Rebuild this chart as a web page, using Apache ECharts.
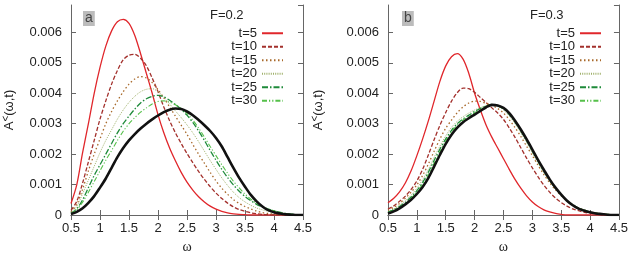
<!DOCTYPE html>
<html>
<head>
<meta charset="utf-8">
<title>A&lt;(w,t) spectra</title>
<script src="https://cdn.jsdelivr.net/npm/echarts@6/dist/echarts.min.js"></script>
<style>
  html, body { margin: 0; padding: 0; background: #fff; }
  #main { width: 631px; height: 259px; }
</style>
</head>
<body>
<div id="main"></div>
<script>
// frequency grid (omega), step 0.1 from 0.5 to 4.5
var omega = [0.5,0.6,0.7,0.8,0.9,1.0,1.1,1.2,1.3,1.4,1.5,1.6,1.7,1.8,1.9,2.0,2.1,2.2,2.3,2.4,2.5,
  2.6,2.7,2.8,2.9,3.0,3.1,3.2,3.3,3.4,3.5,3.6,3.7,3.8,3.9,4.0,4.1,4.2,4.3,4.4,4.5];

// values in units of 1e-3 -- panel a, F=0.2
var aT5  = [0.38,1.0,2.05,3.0,4.0,4.85,5.55,6.05,6.35,6.43, 6.3,5.9,5.3,4.65,4.0,3.3,2.7,2.2,1.78,1.4,
  1.08,0.82,0.6,0.43,0.29,0.19,0.12,0.07,0.04,0.02, 0.01,0,0,0,0,0,0,0,0,0,0];
var aT10 = [0.15,0.45,1.05,1.75,2.45,3.15,3.75,4.3,4.75,5.1, 5.25,5.28,5.15,4.9,4.5,4.05,3.55,3.1,2.7,2.35,
  2.02,1.72,1.43,1.17,0.93,0.72,0.54,0.39,0.27,0.18, 0.12,0.07,0.04,0.02,0.01,0,0,0,0,0,0];
var aT15 = [0.1,0.35,0.85,1.45,2.0,2.5,3.0,3.4,3.75,4.05, 4.3,4.47,4.55,4.5,4.35,4.12,3.85,3.55,3.25,2.95,
  2.65,2.32,2.0,1.7,1.4,1.12,0.88,0.68,0.51,0.38, 0.28,0.2,0.13,0.08,0.05,0.03,0.02,0.01,0,0,0];
var aT20 = [0.08,0.28,0.7,1.15,1.6,2.05,2.45,2.8,3.15,3.45, 3.7,3.9,4.05,4.13,4.15,4.05,3.87,3.65,3.42,3.2,
  2.96,2.7,2.41,2.1,1.79,1.5,1.22,0.97,0.75,0.57, 0.43,0.32,0.23,0.17,0.12,0.08,0.05,0.03,0.02,0.01,0];
var aT25 = [0.06,0.2,0.5,0.9,1.3,1.65,2.0,2.35,2.7,3.0, 3.25,3.48,3.68,3.82,3.9,3.93,3.88,3.77,3.63,3.47,
  3.28,3.04,2.76,2.45,2.12,1.8,1.5,1.23,0.99,0.78, 0.61,0.47,0.35,0.26,0.19,0.13,0.09,0.05,0.03,0.01,0];
var aT30 = [0.05,0.17,0.42,0.75,1.1,1.45,1.8,2.12,2.45,2.75, 3.0,3.2,3.38,3.52,3.65,3.73,3.75,3.71,3.62,3.5,
  3.34,3.12,2.86,2.56,2.25,1.95,1.65,1.37,1.11,0.89, 0.69,0.52,0.38,0.28,0.2,0.14,0.09,0.05,0.03,0.01,0];
var aEq  = [0.03,0.1,0.22,0.4,0.62,0.9,1.2,1.55,1.9,2.2, 2.45,2.66,2.84,3.0,3.14,3.27,3.38,3.46,3.5,3.48,
  3.4,3.28,3.12,2.95,2.76,2.53,2.25,1.9,1.55,1.22, 0.93,0.66,0.45,0.28,0.16,0.09,0.05,0.02,0.01,0,0];

// panel b, F=0.3
var bT5  = [0.4,0.55,0.76,1.05,1.45,1.95,2.5,3.1,3.75,4.4, 4.9,5.2,5.3,5.12,4.65,4.0,3.45,2.95,2.55,2.2,
  1.85,1.5,1.17,0.88,0.63,0.43,0.28,0.17,0.1,0.05, 0.02,0,0,0,0,0,0,0,0,0,0];
var bT10 = [0.2,0.3,0.45,0.62,0.84,1.12,1.5,1.98,2.48,2.95, 3.37,3.74,4.02,4.17,4.15,4.03,3.86,3.69,3.52,3.35,
  3.14,2.86,2.55,2.21,1.87,1.55,1.25,0.98,0.75,0.56, 0.41,0.29,0.2,0.14,0.09,0.06,0.04,0.02,0.01,0,0];
var bT15 = [0.15,0.25,0.38,0.55,0.75,0.99,1.3,1.68,2.1,2.5, 2.85,3.12,3.36,3.55,3.68,3.74,3.73,3.67,3.6,3.5,
  3.35,3.13,2.87,2.58,2.26,1.95,1.63,1.33,1.06,0.83, 0.63,0.46,0.33,0.23,0.16,0.1,0.07,0.04,0.02,0.01,0];
var bT20 = [0.12,0.2,0.32,0.47,0.65,0.88,1.16,1.5,1.9,2.27, 2.6,2.88,3.08,3.23,3.35,3.45,3.53,3.59,3.62,3.57,
  3.45,3.25,3.0,2.7,2.38,2.04,1.7,1.39,1.1,0.85, 0.64,0.47,0.33,0.23,0.16,0.1,0.06,0.04,0.02,0.01,0];
var bT25 = [0.09,0.17,0.28,0.42,0.59,0.8,1.07,1.41,1.8,2.17, 2.5,2.78,3.0,3.16,3.28,3.4,3.5,3.58,3.63,3.59,
  3.49,3.3,3.05,2.76,2.44,2.1,1.76,1.43,1.14,0.88, 0.66,0.48,0.34,0.23,0.16,0.1,0.06,0.04,0.02,0.01,0];
var bT30 = [0.07,0.15,0.25,0.38,0.55,0.76,1.01,1.33,1.71,2.09, 2.44,2.73,2.96,3.12,3.24,3.36,3.47,3.57,3.63,3.6,
  3.51,3.33,3.08,2.78,2.46,2.12,1.78,1.46,1.16,0.89, 0.67,0.48,0.33,0.22,0.15,0.1,0.06,0.03,0.02,0.01,0];
var bEq  = [0.05,0.12,0.22,0.35,0.5,0.69,0.92,1.22,1.6,1.98, 2.34,2.64,2.87,3.05,3.18,3.3,3.42,3.54,3.62,3.6,
  3.52,3.35,3.1,2.81,2.49,2.15,1.8,1.48,1.17,0.9, 0.67,0.47,0.32,0.21,0.14,0.09,0.05,0.03,0.01,0,0];

var legendNames = ['t=5', 't=10', 't=15', 't=20', 't=25', 't=30'];
var xTicks = [0.5, 4.5, 0.5];   // min, max, step
var yTicks = [0, 6.9, 1];       // in 1e-3

var styles = [
  { color: '#e0262b', type: 'solid', width: 1.3 },
  { color: '#a3302c', type: [4, 2], width: 1.3 },
  { color: '#a8692a', type: [1.5, 2.5], width: 1.3 },
  { color: '#9fb06a', type: [1, 1.2], width: 1 },
  { color: '#1e8a3a', type: [6, 2, 1.5, 2], width: 1.3 },
  { color: '#55c04a', type: [5, 2, 1.2, 2, 1.2, 2], width: 1.1 }
];

var font = 'Liberation Sans, Arial, sans-serif';
var axisColor = '#666';

function pairs(vals) {
  return omega.map(function (w, i) { return [w, vals[i]]; });
}

function yFmt(v) {
  if (v === 0) return '0';
  if (Math.abs(v - Math.round(v)) > 1e-6) return '';
  return (v / 1000).toFixed(3);
}

var grids = [
  { left: 70, top: 5, width: 233, height: 213 },
  { left: 388, top: 5, width: 233.5, height: 213 }
];

var xAxes = [], yAxes = [];
[0, 1].forEach(function (g) {
  xAxes.push({
    type: 'value', gridIndex: g, position: 'bottom',
    min: xTicks[0], max: xTicks[1], interval: xTicks[2],
    axisLine: { show: true, lineStyle: { color: axisColor, width: 1 } },
    axisTick: { show: true, inside: true, length: 5, lineStyle: { color: axisColor } },
    axisLabel: { color: '#222', fontSize: 13, fontFamily: font, margin: 7 },
    splitLine: { show: false },
    name: 'ω', nameLocation: 'middle', nameGap: 25,
    nameTextStyle: { color: '#222', fontSize: 14, fontFamily: 'Liberation Serif, DejaVu Serif, serif' }
  });
  xAxes.push({
    type: 'value', gridIndex: g, position: 'top',
    min: xTicks[0], max: xTicks[1], interval: xTicks[2],
    axisLine: { show: true, lineStyle: { color: axisColor, width: 1 } },
    axisTick: { show: true, inside: true, length: 5, lineStyle: { color: axisColor } },
    axisLabel: { show: false }, splitLine: { show: false }
  });
  yAxes.push({
    type: 'value', gridIndex: g, position: 'left',
    min: yTicks[0], max: yTicks[1], interval: yTicks[2],
    axisLine: { show: true, lineStyle: { color: axisColor, width: 1 } },
    axisTick: { show: true, inside: true, length: 5, lineStyle: { color: axisColor } },
    axisLabel: { color: '#222', fontSize: 13, fontFamily: font, margin: 9, showMaxLabel: false, formatter: yFmt },
    splitLine: { show: false },
    name: '{a|A}{s|<}{a|(ω,t)}', nameLocation: 'middle', nameGap: g === 0 ? 54 : 62,
    nameTextStyle: {
      rich: {
        a: { fontSize: 13, color: '#222', fontFamily: font },
        s: { fontSize: 10, color: '#222', fontFamily: font, verticalAlign: 'top', padding: [0, 0, 6, 0] }
      }
    }
  });
  yAxes.push({
    type: 'value', gridIndex: g, position: 'right',
    min: yTicks[0], max: yTicks[1], interval: yTicks[2],
    axisLine: { show: true, lineStyle: { color: axisColor, width: 1 } },
    axisTick: { show: true, inside: true, length: 5, lineStyle: { color: axisColor } },
    axisLabel: { show: false }, splitLine: { show: false }
  });
});

var panelSets = [
  [aT5, aT10, aT15, aT20, aT25, aT30, aEq],
  [bT5, bT10, bT15, bT20, bT25, bT30, bEq]
];

var series = [];
panelSets.forEach(function (set, g) {
  for (var k = 0; k < 6; k++) {
    series.push({
      type: 'line', name: legendNames[k],
      xAxisIndex: g * 2, yAxisIndex: g * 2,
      data: pairs(set[k]),
      showSymbol: false, symbol: 'none', smooth: 0.3, silent: true,
      lineStyle: { color: styles[k].color, type: styles[k].type, width: styles[k].width },
      itemStyle: { color: styles[k].color },
      animation: false
    });
  }
  series.push({
    type: 'line', name: 'eq',
    xAxisIndex: g * 2, yAxisIndex: g * 2,
    data: pairs(set[6]),
    showSymbol: false, symbol: 'none', smooth: 0.3, silent: true,
    lineStyle: { color: '#111', width: 2.6 },
    itemStyle: { color: '#111' },
    z: 3, animation: false
  });
});

function legendFor(rightPx) {
  return {
    orient: 'vertical', right: rightPx, top: 26.5, align: 'right',
    padding: 0, itemGap: 0, itemWidth: 21, itemHeight: 8,
    selectedMode: false,
    data: legendNames,
    itemStyle: { opacity: 0, borderWidth: 0 },
    textStyle: { color: '#222', fontSize: 13, fontFamily: font, lineHeight: 13.5 }
  };
}

function panelTag(txt, leftPx) {
  return {
    text: txt, left: leftPx, top: 11, padding: [0, 2, 0, 2],
    backgroundColor: '#bcbcbc',
    textStyle: { color: '#444', fontSize: 14, fontWeight: 'normal', fontFamily: font, lineHeight: 15 }
  };
}

function fTitle(txt, leftPx) {
  return {
    text: txt, left: leftPx, top: 9, padding: 0,
    textStyle: { color: '#222', fontSize: 13, fontWeight: 'normal', fontFamily: font }
  };
}

var chart = echarts.init(document.getElementById('main'), null, { renderer: 'canvas' });
chart.setOption({
  animation: false,
  backgroundColor: '#fff',
  title: [panelTag('a', 83), panelTag('b', 402), fTitle('F=0.2', 210), fTitle('F=0.3', 530)],
  legend: [legendFor(347), legendFor(29)],
  grid: grids,
  xAxis: xAxes,
  yAxis: yAxes,
  series: series
});
</script>
</body>
</html>
